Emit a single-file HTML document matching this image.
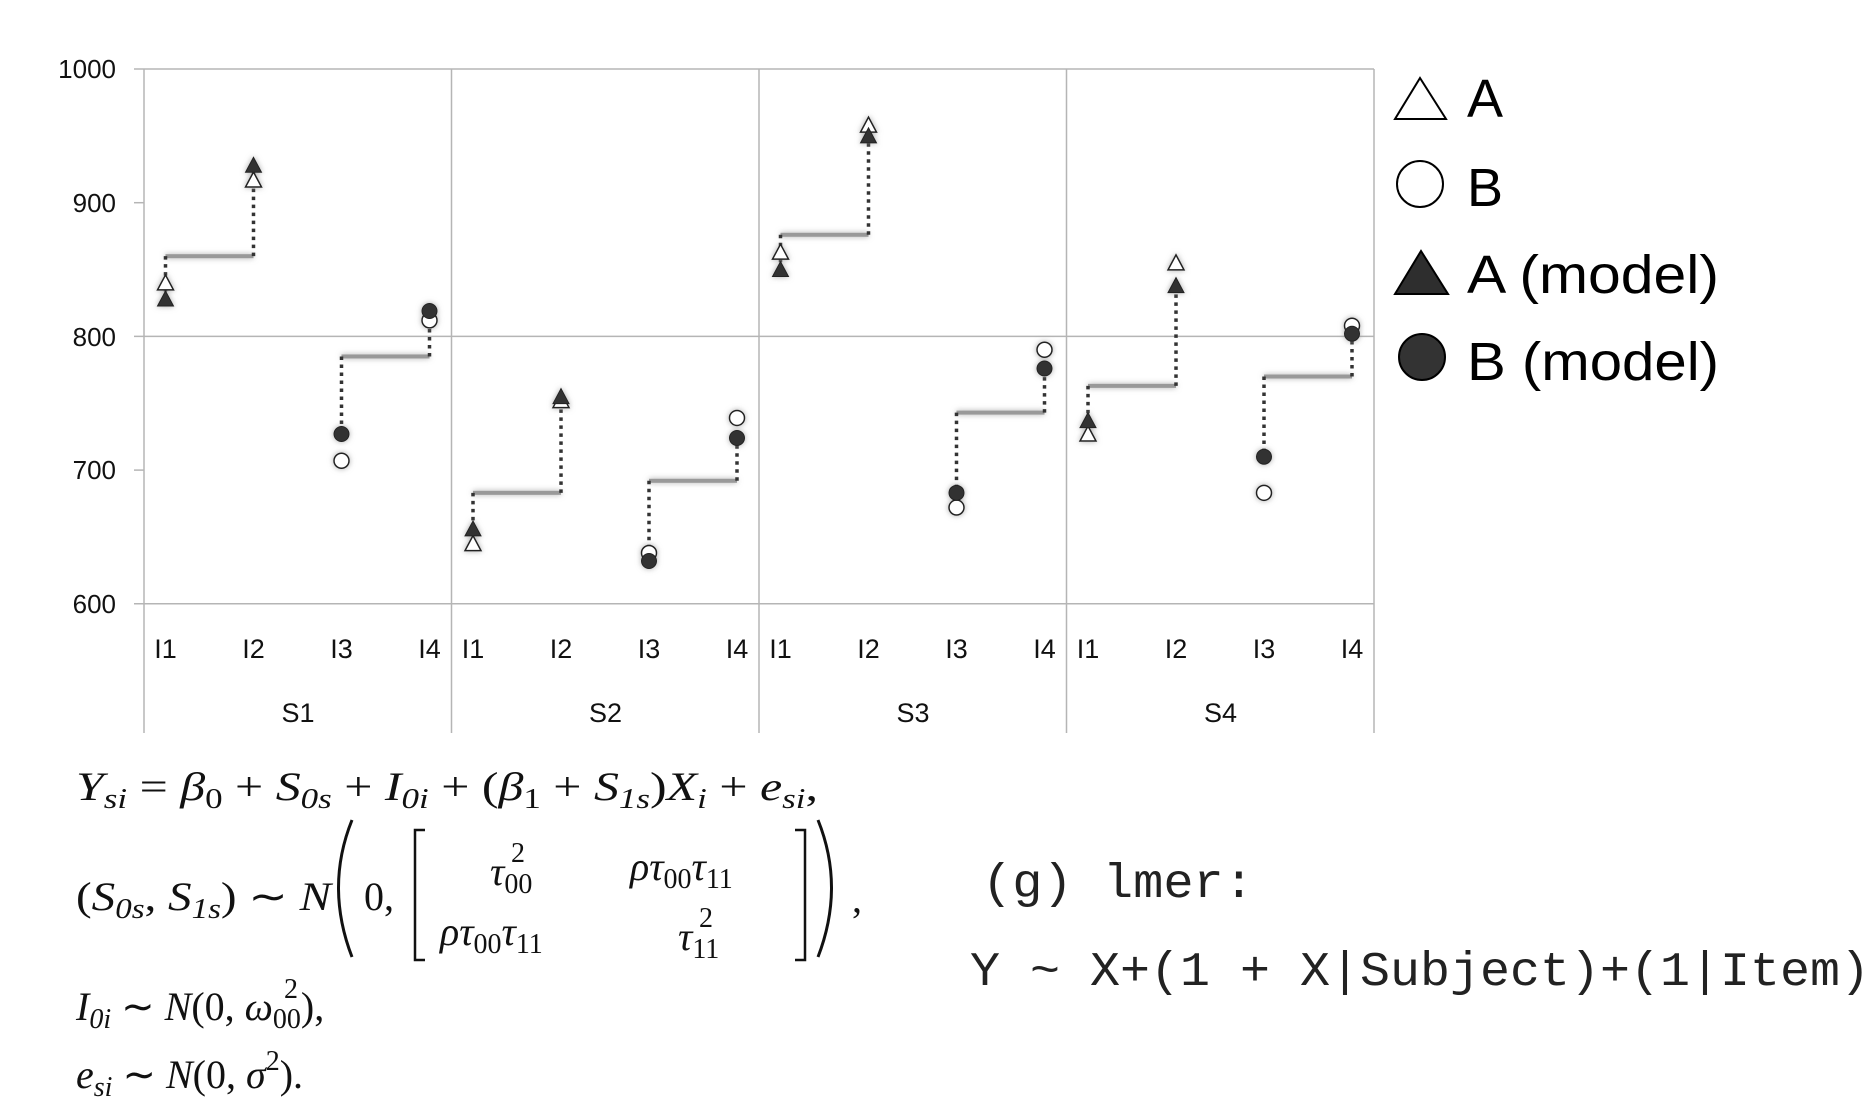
<!DOCTYPE html>
<html><head><meta charset="utf-8"><style>
html,body{margin:0;padding:0;background:#fff;}
svg{display:block;}
</style></head><body>
<svg id="s" width="1873" height="1112" xmlns="http://www.w3.org/2000/svg" font-family="Liberation Sans, sans-serif">
<defs>
<filter id="g" filterUnits="userSpaceOnUse" x="0" y="0" width="1873" height="1112"><feGaussianBlur in="SourceAlpha" stdDeviation="3" result="b"/><feFlood flood-color="#888" flood-opacity="0.7"/><feComposite in2="b" operator="in" result="c"/><feMerge><feMergeNode in="c"/><feMergeNode in="SourceGraphic"/></feMerge></filter>
</defs>
<g stroke="#b5b5b5" stroke-width="1.5" fill="none">
<line x1="134" y1="69" x2="1374" y2="69"/>
<line x1="134" y1="202.7" x2="144" y2="202.7"/>
<line x1="134" y1="336.4" x2="1374" y2="336.4"/>
<line x1="134" y1="470.1" x2="144" y2="470.1"/>
<line x1="134" y1="603.8" x2="1374" y2="603.8"/>
<line x1="144" y1="69" x2="144" y2="733"/>
<line x1="451.5" y1="69" x2="451.5" y2="733"/>
<line x1="759" y1="69" x2="759" y2="733"/>
<line x1="1066.5" y1="69" x2="1066.5" y2="733"/>
<line x1="1374" y1="69" x2="1374" y2="733"/>
</g>
<g font-size="26" fill="#111" text-anchor="end">
<text x="116" y="78">1000</text><text x="116" y="212">900</text><text x="116" y="346">800</text><text x="116" y="479">700</text><text x="116" y="613">600</text>
</g>
<g id="lab" font-size="27" fill="#111" text-anchor="middle"></g>
<g id="plot"></g>
<g font-size="54" fill="#000">
<polygon points="1420,78 1395,119 1446,119" fill="#fff" stroke="#000" stroke-width="2"/>
<text x="1467" y="117">A</text>
<circle cx="1420" cy="184" r="23" fill="#fff" stroke="#000" stroke-width="2"/>
<text x="1467" y="206">B</text>
<polygon points="1421,251 1395,294 1448,294" fill="#2e2e2e" stroke="#000" stroke-width="2"/>
<text x="1467" y="293" textLength="252" lengthAdjust="spacingAndGlyphs">A (model)</text>
<circle cx="1422" cy="357" r="23" fill="#333" stroke="#000" stroke-width="2"/>
<text x="1467" y="380" textLength="252" lengthAdjust="spacingAndGlyphs">B (model)</text>
</g>
<g font-family="Liberation Serif, serif" font-size="40" fill="#111">
<text x="76" y="800" font-style="italic" textLength="742" lengthAdjust="spacingAndGlyphs">Y<tspan font-size="28" dy="8">si</tspan><tspan dy="-8" font-style="normal"> = </tspan>β<tspan font-size="28" dy="8" font-style="normal">0</tspan><tspan dy="-8" font-style="normal"> + </tspan>S<tspan font-size="28" dy="8">0s</tspan><tspan dy="-8" font-style="normal"> + </tspan>I<tspan font-size="28" dy="8">0i</tspan><tspan dy="-8" font-style="normal"> + (</tspan>β<tspan font-size="28" dy="8" font-style="normal">1</tspan><tspan dy="-8" font-style="normal"> + </tspan>S<tspan font-size="28" dy="8">1s</tspan><tspan dy="-8" font-style="normal">)</tspan>X<tspan font-size="28" dy="8">i</tspan><tspan dy="-8" font-style="normal"> + </tspan>e<tspan font-size="28" dy="8">si</tspan><tspan dy="-8" font-style="normal">,</tspan></text>
<text x="76" y="910" font-style="italic" textLength="255" lengthAdjust="spacingAndGlyphs"><tspan font-style="normal">(</tspan>S<tspan font-size="28" dy="8">0s</tspan><tspan dy="-8" font-style="normal">, </tspan>S<tspan font-size="28" dy="8">1s</tspan><tspan dy="-8" font-style="normal">) ∼ </tspan>N</text>
<path d="M352,820 Q325,887 352,957" stroke="#111" stroke-width="3" fill="none"/>
<path d="M818,820 Q845,887 818,957" stroke="#111" stroke-width="3" fill="none"/>
<text x="364" y="910">0,</text>
<path d="M425,830 H415 V960 H425 M795,830 H805 V960 H795" stroke="#111" stroke-width="2.5" fill="none"/>
<text x="852" y="912">,</text>
<text x="490" y="885" font-style="italic">τ<tspan font-size="28" dy="8" font-style="normal">00</tspan></text>
<text x="511" y="862" font-size="28">2</text>
<text x="630" y="880" font-style="italic">ρτ<tspan font-size="28" dy="8" font-style="normal">00</tspan><tspan dy="-8">τ</tspan><tspan font-size="28" dy="8" font-style="normal">11</tspan></text>
<text x="440" y="945" font-style="italic">ρτ<tspan font-size="28" dy="8" font-style="normal">00</tspan><tspan dy="-8">τ</tspan><tspan font-size="28" dy="8" font-style="normal">11</tspan></text>
<text x="678" y="950" font-style="italic">τ<tspan font-size="28" dy="8" font-style="normal">11</tspan></text>
<text x="699" y="927" font-size="28">2</text>
<text x="76" y="1020" font-style="italic">I<tspan font-size="28" dy="8">0i</tspan><tspan dy="-8" font-style="normal"> ∼ </tspan>N<tspan font-style="normal">(0, </tspan>ω<tspan font-size="28" dy="8" font-style="normal">00</tspan><tspan dy="-8" font-style="normal">),</tspan></text>
<text x="284" y="998" font-size="28">2</text>
<text x="76" y="1088" font-style="italic">e<tspan font-size="28" dy="8">si</tspan><tspan dy="-8" font-style="normal"> ∼ </tspan>N<tspan font-style="normal">(0, </tspan>σ<tspan font-size="28" dy="-18" font-style="normal">2</tspan><tspan dy="18" font-style="normal">).</tspan></text>
</g>
<g font-family="Liberation Mono, monospace" font-size="48" fill="#222">
<text x="982" y="897" textLength="272" lengthAdjust="spacingAndGlyphs">(g) lmer:</text>
<text x="970" y="985" textLength="900" lengthAdjust="spacingAndGlyphs">Y ~ X+(1 + X|Subject)+(1|Item)</text>
</g>
</svg>
<script>
var NS="http://www.w3.org/2000/svg";
function y(v){return 69+(1000-v)*1.337;}
function el(t,a,p){var e=document.createElementNS(NS,t);for(var k in a)e.setAttribute(k,a[k]);p.appendChild(e);return e;}
var plot=document.getElementById('plot'),lab=document.getElementById('lab');
var off=[21.5,109.5,197.5,285.5];
var D=[
 [[840,828],[917,928],860,[707,727],[812,819],785],
 [[645,656],[752,755],683,[638,632],[739,724],692],
 [[863,850],[958,950],876,[672,683],[790,776],743],
 [[727,737],[855,838],763,[683,710],[808,802],770]];
for(var k=0;k<4;k++){
 var s0=144+k*307.5;
 for(var j=0;j<4;j++){var t=el('text',{x:s0+off[j],y:658},lab);t.textContent='I'+(j+1);}
 var t=el('text',{x:s0+154,y:722},lab);t.textContent='S'+(k+1);
 var d=D[k];
 [[0,1,2,'tri'],[3,4,5,'cir']].forEach(function(q){
  var x1=s0+off[q[0]==0?0:2],x2=s0+off[q[0]==0?1:3],sy=y(d[q[2]]);
  var a=d[q[0]],b=d[q[1]];
  el('rect',{x:x1,y:sy-2,width:x2-x1,height:4,fill:'#999',filter:'url(#g)'},plot);
  el('line',{x1:x1,y1:sy,x2:x1,y2:y(a[1]),stroke:'#333','stroke-width':3.5,'stroke-dasharray':'3.5 4.5'},plot);
  el('line',{x1:x2,y1:sy,x2:x2,y2:y(b[1]),stroke:'#333','stroke-width':3.5,'stroke-dasharray':'3.5 4.5'},plot);
  [[x1,a],[x2,b]].forEach(function(p){
   var x=p[0],g=el('g',{filter:'url(#g)'},plot);
   if(q[3]=='tri'){
    var yy=y(p[1][0]);el('polygon',{points:(x)+','+(yy-8)+' '+(x-8)+','+(yy+7)+' '+(x+8)+','+(yy+7),fill:'#fff',stroke:'#222','stroke-width':1.5},g);
    yy=y(p[1][1]);el('polygon',{points:(x)+','+(yy-8)+' '+(x-8)+','+(yy+7)+' '+(x+8)+','+(yy+7),fill:'#333',stroke:'#222','stroke-width':1},g);
   }else{
    el('circle',{cx:x,cy:y(p[1][0]),r:7.5,fill:'#fff',stroke:'#222','stroke-width':1.5},g);
    el('circle',{cx:x,cy:y(p[1][1]),r:7.5,fill:'#333',stroke:'#222','stroke-width':1},g);
   }
  });
 });
}
</script>
</body></html>
